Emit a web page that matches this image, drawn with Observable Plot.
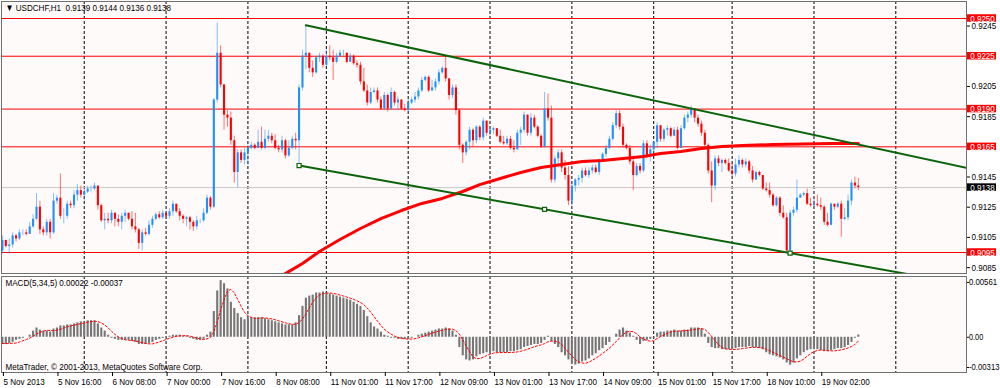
<!DOCTYPE html>
<html><head><meta charset="utf-8">
<script src="https://cdn.jsdelivr.net/npm/d3@7"></script>
<script src="https://cdn.jsdelivr.net/npm/@observablehq/plot@0.6"></script>
<style>
html,body{margin:0;padding:0;background:#fff;}
#chart{width:1000px;height:388px;overflow:hidden;}
#chart svg{display:block;}
</style></head><body><div id="chart"></div>
<script>
// ---------- DATA ----------
const symbolTitle = "▼ USDCHF,H1  0.9139 0.9144 0.9136 0.9138";
const macdTitle = "MACD(5,34,5) 0.00022 -0.00037";
const copyright = "MetaTrader, © 2001-2013, MetaQuotes Software Corp.";

const firstOpen = 0.9096;
const closes = [
0.9103,0.9099,0.9100,0.9106,0.9104,0.9108,0.9108,0.9107,0.9112,0.9117,
0.9125,0.9110,0.9108,0.9115,0.9108,0.9129,0.9131,0.9119,0.9119,0.9127,
0.9126,0.9133,0.9136,0.9133,0.9135,0.9137,0.9137,0.9139,0.9126,0.9116,
0.9117,0.9116,0.9121,0.9117,0.9115,0.9119,0.9121,0.9117,0.9112,0.9110,
0.9101,0.9108,0.9107,0.9113,0.9117,0.9120,0.9118,0.9121,0.9119,0.9122,
0.9127,0.9122,0.9119,0.9117,0.9118,0.9115,0.9112,0.9116,0.9116,0.9121,
0.9131,0.9125,0.9196,0.9227,0.9206,0.9186,0.9184,0.9169,0.9148,0.9161,
0.9156,0.9161,0.9164,0.9166,0.9164,0.9168,0.9164,0.9170,0.9172,0.9169,
0.9164,0.9163,0.9169,0.9159,0.9164,0.9170,0.9169,0.9204,0.9225,0.9227,
0.9217,0.9214,0.9224,0.9225,0.9219,0.9225,0.9224,0.9221,0.9225,0.9227,
0.9227,0.9221,0.9225,0.9220,0.9219,0.9208,0.9202,0.9194,0.9201,0.9202,
0.9196,0.9190,0.9199,0.9190,0.9201,0.9194,0.9196,0.9190,0.9189,0.9194,
0.9196,0.9198,0.9202,0.9209,0.9211,0.9202,0.9204,0.9208,0.9214,0.9217,
0.9210,0.9199,0.9204,0.9189,0.9166,0.9161,0.9168,0.9176,0.9169,0.9178,
0.9171,0.9182,0.9174,0.9176,0.9177,0.9172,0.9168,0.9167,0.9170,0.9164,
0.9163,0.9174,0.9176,0.9186,0.9174,0.9184,0.9178,0.9172,0.9165,0.9190,
0.9184,0.9143,0.9157,0.9161,0.9151,0.9146,0.9129,0.9139,0.9143,0.9144,
0.9149,0.9146,0.9149,0.9151,0.9148,0.9156,0.9160,0.9164,0.9170,0.9179,
0.9187,0.9178,0.9166,0.9164,0.9155,0.9146,0.9152,0.9149,0.9167,0.9159,
0.9163,0.9168,0.9179,0.9170,0.9176,0.9177,0.9172,0.9176,0.9164,0.9177,
0.9184,0.9186,0.9190,0.9184,0.9180,0.9174,0.9166,0.9149,0.9139,0.9157,
0.9154,0.9156,0.9154,0.9149,0.9147,0.9153,0.9156,0.9153,0.9155,0.9149,
0.9143,0.9148,0.9146,0.9137,0.9136,0.9133,0.9126,0.9131,0.9121,0.9118,
0.9096,0.9121,0.9123,0.9131,0.9133,0.9134,0.9127,0.9126,0.9127,0.9126,
0.9125,0.9115,0.9113,0.9127,0.9125,0.9127,0.9117,0.9118,0.9129,0.9141,
0.9139,0.9138];
const highs = [
0.9106,0.9103,0.9104,0.9108,0.9107,0.9110,0.9110,0.9110,0.9115,0.9120,
0.9134,0.9129,0.9112,0.9117,0.9117,0.9134,0.9133,0.9147,0.9124,0.9129,
0.9129,0.9136,0.9140,0.9139,0.9137,0.9139,0.9139,0.9141,0.9139,0.9127,
0.9121,0.9121,0.9123,0.9121,0.9120,0.9121,0.9123,0.9121,0.9122,0.9121,
0.9111,0.9110,0.9111,0.9116,0.9119,0.9121,0.9122,0.9123,0.9121,0.9124,
0.9129,0.9125,0.9124,0.9120,0.9119,0.9119,0.9116,0.9119,0.9117,0.9124,
0.9133,0.9132,0.9197,0.9247,0.9232,0.9206,0.9189,0.9188,0.9172,0.9163,
0.9163,0.9164,0.9166,0.9168,0.9167,0.9176,0.9178,0.9176,0.9176,0.9174,
0.9173,0.9166,0.9172,0.9170,0.9169,0.9172,0.9174,0.9206,0.9229,0.9245,
0.9227,0.9222,0.9225,0.9227,0.9226,0.9229,0.9232,0.9229,0.9227,0.9229,
0.9229,0.9227,0.9227,0.9226,0.9222,0.9221,0.9217,0.9206,0.9204,0.9204,
0.9204,0.9198,0.9201,0.9200,0.9204,0.9202,0.9198,0.9196,0.9193,0.9196,
0.9198,0.9201,0.9204,0.9211,0.9212,0.9212,0.9209,0.9210,0.9216,0.9218,
0.9225,0.9210,0.9206,0.9206,0.9190,0.9167,0.9169,0.9178,0.9177,0.9179,
0.9179,0.9184,0.9182,0.9177,0.9178,0.9177,0.9176,0.9172,0.9172,0.9172,
0.9169,0.9176,0.9178,0.9188,0.9186,0.9187,0.9186,0.9179,0.9173,0.9201,
0.9200,0.9192,0.9159,0.9163,0.9163,0.9156,0.9152,0.9141,0.9144,0.9146,
0.9151,0.9151,0.9151,0.9153,0.9153,0.9157,0.9161,0.9166,0.9172,0.9181,
0.9189,0.9189,0.9180,0.9167,0.9166,0.9158,0.9154,0.9154,0.9169,0.9169,
0.9166,0.9169,0.9181,0.9179,0.9177,0.9179,0.9178,0.9178,0.9178,0.9179,
0.9186,0.9188,0.9192,0.9190,0.9186,0.9182,0.9176,0.9167,0.9155,0.9159,
0.9159,0.9157,0.9157,0.9157,0.9154,0.9157,0.9159,0.9157,0.9157,0.9156,
0.9152,0.9149,0.9149,0.9146,0.9141,0.9141,0.9134,0.9132,0.9132,0.9126,
0.9121,0.9123,0.9125,0.9143,0.9134,0.9135,0.9137,0.9131,0.9130,0.9133,
0.9131,0.9126,0.9121,0.9128,0.9126,0.9128,0.9129,0.9124,0.9133,0.9143,
0.9145,0.9144];
const lows = [
0.9094,0.9098,0.9094,0.9098,0.9102,0.9103,0.9106,0.9106,0.9107,0.9111,
0.9116,0.9107,0.9106,0.9106,0.9104,0.9107,0.9127,0.9117,0.9114,0.9117,
0.9124,0.9124,0.9129,0.9131,0.9129,0.9134,0.9135,0.9136,0.9123,0.9115,
0.9110,0.9114,0.9114,0.9112,0.9112,0.9110,0.9115,0.9116,0.9110,0.9108,
0.9097,0.9096,0.9106,0.9106,0.9111,0.9116,0.9117,0.9117,0.9117,0.9117,
0.9119,0.9121,0.9116,0.9114,0.9112,0.9110,0.9109,0.9110,0.9114,0.9115,
0.9120,0.9123,0.9124,0.9194,0.9204,0.9176,0.9178,0.9166,0.9141,0.9138,
0.9154,0.9153,0.9153,0.9163,0.9163,0.9164,0.9163,0.9163,0.9168,0.9167,
0.9163,0.9161,0.9161,0.9157,0.9158,0.9163,0.9163,0.9153,0.9202,0.9216,
0.9214,0.9211,0.9213,0.9221,0.9217,0.9218,0.9222,0.9209,0.9220,0.9224,
0.9225,0.9220,0.9221,0.9219,0.9217,0.9206,0.9201,0.9192,0.9193,0.9200,
0.9194,0.9189,0.9189,0.9188,0.9189,0.9192,0.9189,0.9189,0.9188,0.9188,
0.9193,0.9194,0.9196,0.9201,0.9208,0.9201,0.9202,0.9202,0.9206,0.9213,
0.9208,0.9196,0.9197,0.9186,0.9163,0.9154,0.9159,0.9163,0.9165,0.9167,
0.9169,0.9169,0.9172,0.9172,0.9173,0.9171,0.9167,0.9166,0.9166,0.9163,
0.9161,0.9163,0.9166,0.9174,0.9172,0.9172,0.9177,0.9171,0.9164,0.9164,
0.9182,0.9141,0.9141,0.9151,0.9148,0.9143,0.9126,0.9126,0.9135,0.9139,
0.9141,0.9145,0.9144,0.9147,0.9147,0.9146,0.9155,0.9158,0.9163,0.9169,
0.9177,0.9176,0.9164,0.9163,0.9153,0.9136,0.9145,0.9147,0.9148,0.9157,
0.9155,0.9159,0.9164,0.9168,0.9168,0.9172,0.9171,0.9172,0.9163,0.9164,
0.9176,0.9181,0.9184,0.9181,0.9178,0.9172,0.9164,0.9147,0.9128,0.9136,
0.9152,0.9148,0.9153,0.9148,0.9145,0.9145,0.9151,0.9151,0.9151,0.9147,
0.9141,0.9143,0.9145,0.9136,0.9135,0.9131,0.9125,0.9125,0.9119,0.9117,
0.9095,0.9094,0.9119,0.9121,0.9131,0.9132,0.9126,0.9125,0.9125,0.9125,
0.9123,0.9113,0.9112,0.9113,0.9123,0.9124,0.9105,0.9116,0.9116,0.9126,
0.9137,0.9136];

// moving average (red thick line)
const maBars = [83,88,93,99,105,111,117,123,129,135,140,146,152,158,164,170,176,182,188,193,199,205,211,217,226,235,243,251];
const maValues = [0.9081,0.90877,0.90957,0.91036,0.91109,0.91175,0.91228,0.91275,0.91308,0.91354,0.91400,0.91440,0.91480,0.91513,0.91533,0.91553,0.91559,0.91573,0.91586,0.91606,0.91619,0.91639,0.91652,0.91659,0.91665,0.91669,0.91672,0.91672];

// trend lines (bar index, price)
const upperLineBars = [89, 282.73];
const upperLinePrices = [0.92455, 0.9151];
const lowerLineBars = [87, 266];
const lowerLinePrices = [0.91526, 0.90805];
const lowerAnchorBars = [87, 159, 231];
const lowerAnchorPrices = [0.91526, 0.91236, 0.90946];

// horizontal levels
const levels = [0.9250, 0.9225, 0.9190, 0.9165, 0.9095];
const bidPrice = 0.9138;
const priceTicks = [0.9085,0.9105,0.9125,0.9145,0.9185,0.9205,0.9245];

// day separators (bar index of 00:00)
const dayStarts = [24,48,72,95,119,143,167,191,214,238,262];

// time axis
const tickBars = [0,16,32,48,64,80,96,112,128,144,160,176,192,208,224,240];
const tickLabels = ["5 Nov 2013","5 Nov 16:00","6 Nov 08:00","7 Nov 00:00","7 Nov 16:00","8 Nov 08:00","11 Nov 01:00","11 Nov 17:00","12 Nov 09:00","13 Nov 01:00","13 Nov 17:00","14 Nov 09:00","15 Nov 01:00","15 Nov 17:00","18 Nov 10:00","19 Nov 02:00"];

// MACD histogram and signal
const macdHist = [
-7e-4,-7e-4,-6e-4,-5e-4,-3e-4,-2e-4,-1e-4,0,2e-4,6e-4,
9e-4,7e-4,6e-4,6e-4,5e-4,8e-4,9e-4,11e-4,11e-4,12e-4,
12e-4,13e-4,14e-4,15e-4,15e-4,16e-4,16e-4,16e-4,13e-4,9e-4,
6e-4,2e-4,-1e-4,-2e-4,-3e-4,-3e-4,-3e-4,-3e-4,-4e-4,-5e-4,
-7e-4,-7e-4,-7e-4,-6e-4,-5e-4,-3e-4,-2e-4,-1e-4,0,1e-4,
2e-4,2e-4,2e-4,1e-4,1e-4,-1e-4,-2e-4,-3e-4,-3e-4,-2e-4,
2e-4,5e-4,25e-4,45e-4,55e-4,52e-4,47e-4,34e-4,28e-4,23e-4,
19e-4,17e-4,18e-4,19e-4,19e-4,19e-4,19e-4,18e-4,17e-4,16e-4,
15e-4,14e-4,13e-4,12e-4,12e-4,12e-4,14e-4,21e-4,30e-4,38e-4,
40e-4,41e-4,43e-4,43e-4,44e-4,43e-4,42e-4,41e-4,40e-4,39e-4,
38e-4,37e-4,36e-4,34e-4,32e-4,30e-4,26e-4,20e-4,14e-4,10e-4,
8e-4,5e-4,2e-4,1e-4,-1e-4,-1e-4,-2e-4,-2e-4,-2e-4,-2e-4,
-1e-4,0,2e-4,3e-4,4e-4,5e-4,6e-4,7e-4,8e-4,8e-4,
9e-4,8e-4,6e-4,2e-4,-10e-4,-18e-4,-22e-4,-23e-4,-22e-4,-19e-4,
-17e-4,-16e-4,-15e-4,-15e-4,-14e-4,-15e-4,-15e-4,-15e-4,-15e-4,-14e-4,
-14e-4,-13e-4,-12e-4,-10e-4,-9e-4,-8e-4,-7e-4,-7e-4,-6e-4,-3e-4,
1e-4,-4e-4,-7e-4,-10e-4,-15e-4,-18e-4,-22e-4,-26e-4,-27e-4,-26e-4,
-24e-4,-23e-4,-21e-4,-18e-4,-16e-4,-13e-4,-11e-4,-8e-4,-5e-4,0,
3e-4,7e-4,9e-4,6e-4,4e-4,1e-4,-3e-4,-7e-4,-4e-4,-3e-4,
-2e-4,-1e-4,4e-4,5e-4,5e-4,6e-4,6e-4,7e-4,6e-4,6e-4,
7e-4,7e-4,9e-4,9e-4,9e-4,8e-4,3e-4,-6e-4,-10e-4,-11e-4,
-11e-4,-12e-4,-12e-4,-12e-4,-12e-4,-11e-4,-10e-4,-10e-4,-10e-4,-9e-4,
-10e-4,-10e-4,-11e-4,-12e-4,-15e-4,-17e-4,-18e-4,-19e-4,-20e-4,-22e-4,
-25e-4,-27e-4,-25e-4,-21e-4,-18e-4,-15e-4,-13e-4,-12e-4,-12e-4,-12e-4,
-13e-4,-14e-4,-14e-4,-13e-4,-12e-4,-11e-4,-11e-4,-10e-4,-8e-4,-5e-4,
-1e-4,2.2e-4];
const macdSignal = [
-6.0e-4,-6.2e-4,-6.0e-4,-5.8e-4,-5.6e-4,-4.6e-4,-3.4e-4,-2.2e-4,-0.8e-4,1.0e-4,
3.2e-4,4.8e-4,6.0e-4,6.8e-4,6.6e-4,6.4e-4,6.8e-4,7.8e-4,8.8e-4,10.2e-4,
11.0e-4,11.8e-4,12.4e-4,13.2e-4,13.8e-4,14.6e-4,15.2e-4,15.6e-4,15.2e-4,14.0e-4,
12.0e-4,9.2e-4,5.8e-4,2.8e-4,0.4e-4,-1.4e-4,-2.4e-4,-2.8e-4,-3.2e-4,-3.6e-4,
-4.4e-4,-5.2e-4,-6.0e-4,-6.4e-4,-6.4e-4,-5.6e-4,-4.6e-4,-3.4e-4,-2.2e-4,-1.0e-4,
0,0.8e-4,1.4e-4,1.6e-4,1.6e-4,1.0e-4,0.2e-4,-0.8e-4,-1.6e-4,-2.2e-4,
-1.6e-4,-0.2e-4,5.4e-4,15.0e-4,26.4e-4,36.4e-4,44.8e-4,46.6e-4,43.2e-4,36.8e-4,
30.2e-4,24.2e-4,21.0e-4,19.2e-4,18.4e-4,18.4e-4,18.8e-4,18.8e-4,18.4e-4,17.8e-4,
17.0e-4,16.0e-4,15.0e-4,14.0e-4,13.2e-4,12.6e-4,12.6e-4,14.2e-4,17.8e-4,23.0e-4,
28.6e-4,34.0e-4,38.4e-4,41.0e-4,42.2e-4,42.8e-4,43.0e-4,42.6e-4,42.0e-4,41.0e-4,
40.0e-4,39.0e-4,38.0e-4,36.8e-4,35.4e-4,33.8e-4,31.6e-4,28.4e-4,24.4e-4,20.0e-4,
15.6e-4,11.4e-4,7.8e-4,5.2e-4,3.0e-4,1.2e-4,-0.2e-4,-1.0e-4,-1.6e-4,-1.8e-4,
-1.8e-4,-1.4e-4,-0.6e-4,0.4e-4,1.6e-4,2.8e-4,4.0e-4,5.0e-4,6.0e-4,6.8e-4,
7.6e-4,8.0e-4,7.8e-4,6.6e-4,3.0e-4,-2.4e-4,-8.4e-4,-14.2e-4,-19.0e-4,-20.8e-4,
-20.6e-4,-19.4e-4,-17.8e-4,-16.4e-4,-15.4e-4,-15.0e-4,-14.8e-4,-14.8e-4,-14.8e-4,-14.8e-4,
-14.6e-4,-14.2e-4,-13.6e-4,-12.6e-4,-11.6e-4,-10.4e-4,-9.2e-4,-8.2e-4,-7.4e-4,-6.2e-4,
-4.4e-4,-3.8e-4,-3.8e-4,-4.6e-4,-7.0e-4,-10.8e-4,-14.4e-4,-18.2e-4,-21.6e-4,-23.8e-4,
-25.0e-4,-25.2e-4,-24.2e-4,-22.4e-4,-20.4e-4,-18.2e-4,-15.8e-4,-13.2e-4,-10.6e-4,-7.4e-4,
-4.2e-4,-0.6e-4,2.8e-4,5.0e-4,5.8e-4,5.4e-4,3.4e-4,0.2e-4,-1.8e-4,-3.2e-4,
-3.8e-4,-3.4e-4,-1.2e-4,0.6e-4,2.2e-4,3.8e-4,5.2e-4,5.8e-4,6.0e-4,6.2e-4,
6.4e-4,6.6e-4,7.0e-4,7.6e-4,8.2e-4,8.4e-4,7.6e-4,4.6e-4,0.8e-4,-3.2e-4,
-7.0e-4,-10.0e-4,-11.2e-4,-11.6e-4,-11.8e-4,-11.8e-4,-11.4e-4,-11.0e-4,-10.6e-4,-10.0e-4,
-9.8e-4,-9.8e-4,-10.0e-4,-10.4e-4,-11.6e-4,-13.0e-4,-14.6e-4,-16.2e-4,-17.8e-4,-19.2e-4,
-20.8e-4,-22.6e-4,-23.8e-4,-24.0e-4,-23.2e-4,-21.2e-4,-18.4e-4,-15.8e-4,-14.0e-4,-12.8e-4,
-12.4e-4,-12.6e-4,-13.0e-4,-13.2e-4,-13.2e-4,-12.8e-4,-12.2e-4,-11.4e-4,-10.4e-4,-9.0e-4,
-7.0e-4,-3.7e-4];
const macdMax = 0.00561, macdMin = -0.00313;

// ---------- BUILD ----------
const BULL = "#1e90ff", BEAR = "#ff0000";
const bars = closes.map((c, i) => ({i, o: i === 0 ? firstOpen : closes[i - 1], c, h: highs[i], l: lows[i]}));
bars.forEach(d => d.col = d.c >= d.o ? BULL : BEAR);
const maPts = maBars.map((i, k) => ({i, p: maValues[k]}));
const upper = upperLineBars.map((i, k) => ({i, p: upperLinePrices[k]}));
const lower = lowerLineBars.map((i, k) => ({i, p: lowerLinePrices[k]}));
const anchors = lowerAnchorBars.map((i, k) => ({i, p: lowerAnchorPrices[k]}));
const hist = macdHist.map((v, i) => ({i, v}));
const sig = macdSignal.map((s, i) => ({i, s}));

const FONT = "'Liberation Sans',Arial,sans-serif";
const xDom = [-0.264, 282.73];
const fmt4 = d3.format(".4f");
const fmtM = d => d === 0 ? "0.00" : (d < 0 ? "-" : "") + Math.abs(d).toFixed(5);
const grid = {stroke: "#000", strokeDasharray: "3,2", strokeWidth: 1};
const style = {background: "#ffffff", fontFamily: FONT, fontSize: "9.5px", color: "#000", overflow: "visible"};
const boxOpts = {x1: xDom[1], x2: xDom[1], y1: d => d, y2: d => d, insetLeft: 1, insetRight: -30, insetTop: -3.75, insetBottom: -3.75};
const mAxis = {anchor: "right", tickSize: 2, tickPadding: 0.5, tickFormat: fmtM, label: null, fontSize: 8.6};

const main = Plot.plot({
  width: 1000, height: 275, marginTop: 1, marginBottom: 2, marginLeft: 1, marginRight: 34,
  style,
  x: {type: "linear", domain: xDom, axis: null},
  y: {domain: [0.908109, 0.926126]},
  color: {type: "identity"},
  marks: [
    Plot.frame({fill: "#fffafa", stroke: null}),
    Plot.ruleX(dayStarts, grid),
    Plot.ruleY([bidPrice], {stroke: "#c8c8c8"}),
    Plot.ruleY(levels, {stroke: "#ff0000"}),
    Plot.ruleX(bars, {x: "i", y1: "l", y2: "h", stroke: "col", strokeOpacity: 0.55, strokeWidth: 1}),
    Plot.ruleX(bars, {x: "i", y1: "o", y2: "c", stroke: "col", strokeWidth: 2.1}),
    Plot.line(maPts, {x: "i", y: "p", stroke: "#ff0000", strokeWidth: 3, clip: true}),
    Plot.line(upper, {x: "i", y: "p", stroke: "#0a640a", strokeWidth: 2, clip: true}),
    Plot.line(lower, {x: "i", y: "p", stroke: "#0a640a", strokeWidth: 2, clip: true}),
    Plot.dot(anchors, {x: "i", y: "p", symbol: "square", r: 2.3, stroke: "#0a640a", fill: "#fffafa", strokeWidth: 1.2}),
    Plot.frame({stroke: "#707070"}),
    Plot.axisY({anchor: "right", ticks: priceTicks, tickFormat: fmt4, tickSize: 3, tickPadding: 2, label: null}),
    Plot.rect(levels, {...boxOpts, fill: "#ff0000"}),
    Plot.text(levels, {x: xDom[1], y: d => d, dx: 16, text: d => fmt4(d), fill: "#ffffff"}),
    Plot.rect([bidPrice], {...boxOpts, fill: "#000000"}),
    Plot.text([bidPrice], {x: xDom[1], y: d => d, dx: 16, text: d => fmt4(d), fill: "#ffffff"}),
    Plot.text([symbolTitle], {frameAnchor: "top-left", dx: 4, dy: 3, lineAnchor: "top", textAnchor: "start", text: d => d})
  ]
});

const macd = Plot.plot({
  width: 1000, height: 113, marginTop: 1, marginBottom: 16, marginLeft: 1, marginRight: 34,
  style,
  x: {type: "linear", domain: xDom},
  y: {domain: [-0.003421, 0.005901]},
  marks: [
    Plot.frame({fill: "#fffafa", stroke: null}),
    Plot.ruleX(dayStarts, grid),
    Plot.ruleX(hist, {x: "i", y1: 0, y2: "v", stroke: "#767676", strokeWidth: 2.1}),
    Plot.line(sig, {x: "i", y: "s", stroke: "#ff0000", strokeDasharray: "2,2", strokeWidth: 1}),
    Plot.frame({stroke: "#707070"}),
    Plot.axisY({...mAxis, ticks: [macdMax], dy: 3}),
    Plot.axisY({...mAxis, ticks: [0]}),
    Plot.axisY({...mAxis, ticks: [macdMin], dy: -2}),
    Plot.axisX({anchor: "bottom", ticks: tickBars, tickSize: 4, tickPadding: 2, textAnchor: "start", dx: 1, label: null,
      tickFormat: d => tickLabels[tickBars.indexOf(d)]}),
    Plot.text([macdTitle], {frameAnchor: "top-left", dx: 4, dy: 3, lineAnchor: "top", textAnchor: "start", text: d => d}),
    Plot.text([copyright], {frameAnchor: "bottom-left", dx: 4, dy: -3, lineAnchor: "bottom", textAnchor: "start", text: d => d})
  ]
});

const root = document.getElementById("chart");
root.appendChild(main);
root.appendChild(macd);
// MetaTrader uses a compact system font: condense the glyphs horizontally
root.querySelectorAll("text").forEach(t => {
  const len = t.getComputedTextLength();
  if (len > 0) {
    const k = /^-?0\.00\d{3}$/.test(t.textContent) ? 0.9 : 0.85;
    t.setAttribute("textLength", (len * k).toFixed(1));
    t.setAttribute("lengthAdjust", "spacingAndGlyphs");
  }
});
</script>
</body></html>
